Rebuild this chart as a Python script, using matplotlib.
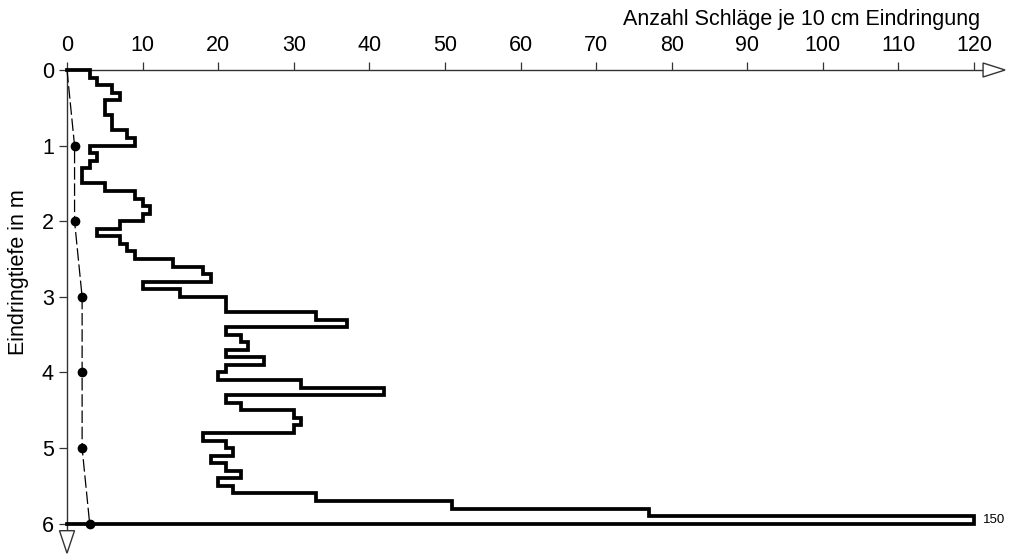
import numpy as np
import matplotlib
matplotlib.use("Agg")
import matplotlib.pyplot as plt
from matplotlib.patches import Polygon

plt.rcParams['font.family'] = ['Liberation Sans', 'DejaVu Sans']

# --- data -------------------------------------------------------------
# blows per 10 cm penetration, for each 0.1 m interval from 0.0 to 6.0 m
depth_top = np.round(np.arange(0.0, 6.0, 0.1), 1)
blows = [3, 4, 6, 7, 5, 5, 6, 6, 8, 9,
         3, 4, 3, 2, 2, 5, 9, 10, 11, 10,
         7, 4, 7, 8, 9, 14, 18, 19, 10, 15,
         21, 21, 33, 37, 21, 23, 24, 21, 26, 21,
         20, 31, 42, 21, 23, 30, 31, 30, 18, 21,
         22, 19, 21, 23, 20, 22, 33, 51, 77, 150]
interval = 0.1

# secondary measurement (dashed line with dots)
aux_depth = [0, 1, 2, 3, 4, 5, 6]
aux_value = [0, 1, 1, 2, 2, 2, 3]

x_ticks = list(range(0, 121, 10))
y_ticks = [0, 1, 2, 3, 4, 5, 6]
x_label = "Anzahl Schläge je 10 cm Eindringung"
y_label = "Eindringtiefe in m"
x_max = 120

# --- figure -----------------------------------------------------------
W, H = 1014, 556
fig = plt.figure(figsize=(W / 100, H / 100), dpi=100)
ax = fig.add_axes([67 / W, 1 - 523.7 / H, (974 - 67) / W, (523.7 - 70) / H])
ax.set_xlim(0, x_max)
ax.set_ylim(6, 0)

# step profile
b = np.minimum(np.array(blows, dtype=float), x_max)
xs = np.concatenate([[0], np.repeat(b, 2), [0]])
ys = np.concatenate([[0], np.column_stack([depth_top, depth_top + interval]).ravel(), [6.0]])
ax.plot(xs, ys, color='black', lw=2.7, solid_joinstyle='miter', clip_on=False, zorder=3)

# label for clipped value
ax.text(x_max + 1.2, depth_top[-1] + interval / 2, str(blows[-1]), fontsize=9.5,
        va='center', ha='left', clip_on=False)

# dashed auxiliary line
ax.plot(aux_value, aux_depth, color='black', lw=0.9, ls=(0, (10, 3)), clip_on=False, zorder=2)
ax.plot(aux_value[1:], aux_depth[1:], 'o', color='black', ms=6, clip_on=False, zorder=4)

# axes styling
for s in ['bottom', 'right', 'top', 'left']:
    ax.spines[s].set_visible(False)

axis_col = '#333333'
# x axis line with open arrow
ax.plot([0, 121.2], [0, 0], color=axis_col, lw=1.0, clip_on=False, zorder=1)
xpx = x_max / (974 - 67)   # data per pixel (x)
ypx = 6 / (523.7 - 70)     # data per pixel (y)
tri_x = Polygon([[121.2, -7 * ypx], [121.2, 7 * ypx], [121.2 + 22 * xpx, 0]],
                closed=True, facecolor='white', edgecolor=axis_col, lw=1.0,
                clip_on=False, zorder=1)
ax.add_patch(tri_x)
# y axis line with open arrow
ax.plot([0, 0], [0, 6 + 7 * ypx], color=axis_col, lw=1.0, clip_on=False, zorder=1)
tri_y = Polygon([[-7.5 * xpx, 6 + 7 * ypx], [7.5 * xpx, 6 + 7 * ypx], [0, 6 + 29.5 * ypx]],
                closed=True, facecolor='white', edgecolor=axis_col, lw=1.0,
                clip_on=False, zorder=1)
ax.add_patch(tri_y)

ax.xaxis.tick_top()
ax.set_xticks(x_ticks)
ax.set_yticks(y_ticks)
ax.tick_params(axis='x', direction='out', length=5.5, width=0.9, color=axis_col,
               pad=4.5, labelsize=15.5, top=True, bottom=False)
ax.tick_params(axis='y', direction='out', length=5.5, width=0.9, color=axis_col,
               pad=4, labelsize=15.5)
ax.patch.set_visible(False)

fig.text(980 / W, 1 - 19 / H, x_label, ha='right', va='center', fontsize=15.5)
fig.text(19 / W, 1 - 272 / H, y_label, ha='center', va='center', rotation=90, fontsize=15.5)

fig.savefig("out.png", dpi=100, facecolor='white')
